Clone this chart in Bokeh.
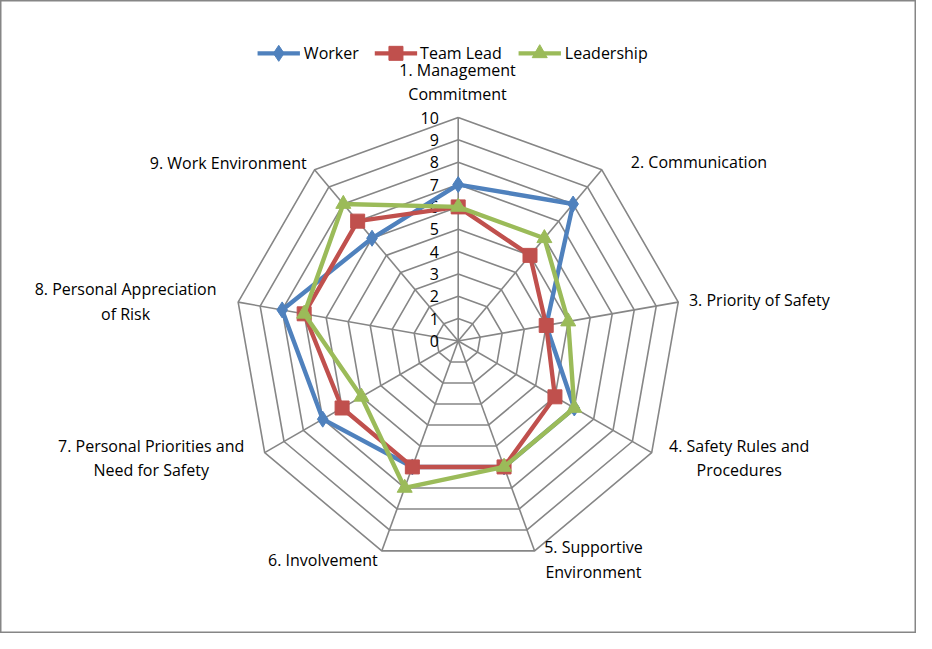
import numpy as np
from bokeh.plotting import figure
from bokeh.models import Range1d
from bokeh.embed import file_html
from bokeh.resources import INLINE
from bokeh.core.properties import value

# ---------------- data ----------------
categories = [
    "1. Management\nCommitment",
    "2. Communication",
    "3. Priority of Safety",
    "4. Safety Rules and\nProcedures",
    "5. Supportive\nEnvironment",
    "6. Involvement",
    "7. Personal Priorities and\nNeed for Safety",
    "8. Personal Appreciation\nof Risk",
    "9. Work Environment",
]
worker = [7, 8, 4, 6, 6, 6, 7, 8, 6]
team_lead = [6, 5, 4, 5, 6, 6, 6, 7, 7]
leadership = [6, 6, 5, 6, 6, 7, 5, 7, 8]
series_names = ["Worker", "Team Lead", "Leadership"]
tick_values = list(range(0, 11))
tick_labels = [str(v) for v in tick_values]

# ---------------- layout / style ----------------
W, H = 916, 633
SX, SY = 915 / 929, 632 / 646          # reference px -> figure px
REF_CX, REF_CY, REF_R = 465.7, 349.0, 228.0
U = REF_R * 0.98 / 10.0                # figure px per value unit
CXF = (REF_CX - 1) * SX
CYF = (REF_CY - 1) * SY

def ref_x(xr):
    return ((xr - 1) * SX - CXF) / U

def ref_y(yr):
    return (CYF - (yr - 1) * SY) / U

FONT = value("Open Sans")
FS = "16px"
GRID_COLOR = "#868686"
COLORS = ["#4F81BD", "#C0504D", "#9BBB59"]
MARKERS = ["diamond", "square", "triangle"]
MSIZES = [16, 14, 15]

# label placement (reference px): align, anchor x, line centre ys
LABEL_LAYOUT = [
    ("center", 465, [72, 97]),
    ("left", 641, [166]),
    ("left", 700, [307]),
    ("center", 751, [456, 481]),
    ("center", 603, [560, 585]),
    ("right", 384, [573]),
    ("center", 154, [456, 481]),
    ("center", 128, [296, 321]),
    ("right", 312, [167]),
]

p = figure(
    width=W, height=H,
    x_range=Range1d(-CXF / U, (W - CXF) / U),
    y_range=Range1d(-(H - CYF) / U, CYF / U),
    output_backend="svg", toolbar_location=None,
    min_border=0, x_axis_type=None, y_axis_type=None,
)
p.grid.visible = False
p.background_fill_color = "white"
p.border_fill_color = "white"
p.outline_line_color = GRID_COLOR
p.outline_line_width = 2

n = len(categories)
angles = np.array([2 * np.pi * i / n for i in range(n)])
sin_a, cos_a = np.sin(angles), np.cos(angles)

# concentric polygons
rings_x, rings_y = [], []
for v in tick_values[1:]:
    rings_x.append(list(v * sin_a) + [v * sin_a[0]])
    rings_y.append(list(v * cos_a) + [v * cos_a[0]])
p.multi_line(rings_x, rings_y, line_color=GRID_COLOR, line_width=1.6)

# spokes
rmax = tick_values[-1]
p.segment(x0=[0] * n, y0=[0] * n, x1=list(rmax * sin_a), y1=list(rmax * cos_a),
          line_color=GRID_COLOR, line_width=1.6)

# tick labels
p.text(x=[ref_x(446)] * len(tick_values), y=tick_values, text=tick_labels,
       text_align="right", text_baseline="middle", text_font=FONT,
       text_font_size=FS, text_color="black")

# category labels
for cat, (align, ax, ys) in zip(categories, LABEL_LAYOUT):
    lines = cat.split("\n")
    p.text(x=[ref_x(ax)] * len(lines), y=[ref_y(yy) for yy in ys], text=lines,
           text_align=align, text_baseline="middle", text_font=FONT,
           text_font_size=FS, text_color="black")

# series
for vals, col, mk, ms in zip([worker, team_lead, leadership], COLORS, MARKERS, MSIZES):
    v = np.array(vals, dtype=float)
    xs = list(v * sin_a) + [v[0] * sin_a[0]]
    ys = list(v * cos_a) + [v[0] * cos_a[0]]
    p.line(xs, ys, line_color=col, line_width=4.4, line_join="round")
    p.scatter(list(v * sin_a), list(v * cos_a), marker=mk, size=ms,
              fill_color=col, line_color=col)

# legend (drawn manually, Excel style)
LEG = [(262, 305, 309), (381, 424, 427), (527, 570, 574)]
leg_y = ref_y(55)
for name, col, mk, ms, (x0, x1, tx) in zip(series_names, COLORS, MARKERS, MSIZES, LEG):
    p.line([ref_x(x0), ref_x(x1)], [leg_y, leg_y], line_color=col, line_width=4.4)
    p.scatter([ref_x((x0 + x1) / 2)], [leg_y], marker=mk, size=ms,
              fill_color=col, line_color=col)
    p.text(x=[ref_x(tx)], y=[leg_y], text=[name], text_align="left",
           text_baseline="middle", text_font=FONT, text_font_size=FS,
           text_color="black")

open("out.html", "w").write(file_html(p, INLINE))
